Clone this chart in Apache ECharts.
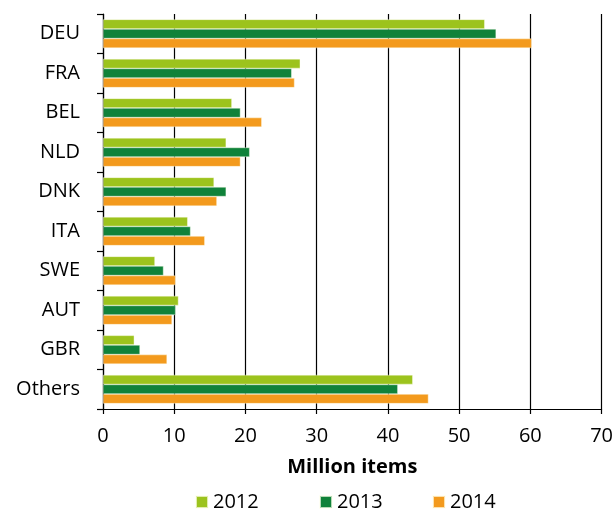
<!DOCTYPE html>
<html>
<head>
<meta charset="utf-8">
<script src="https://cdn.jsdelivr.net/npm/echarts@6/dist/echarts.min.js"></script>
<style>
  html, body { margin: 0; padding: 0; background: #fff; }
  #chart { width: 616px; height: 511px; }
</style>
</head>
<body>
<div id="chart"></div>
<script>
// Items by country, million items
const categories = ['DEU', 'FRA', 'BEL', 'NLD', 'DNK', 'ITA', 'SWE', 'AUT', 'GBR', 'Others'];
const years = ['2012', '2013', '2014'];
const values2012 = [53.6, 27.7, 18.1, 17.3, 15.6, 11.9, 7.3, 10.6, 4.4, 43.5];
const values2013 = [55.2, 26.5, 19.3, 20.6, 17.3, 12.3, 8.5, 10.2, 5.2, 41.4];
const values2014 = [60.2, 26.9, 22.3, 19.3, 16.0, 14.3, 10.2, 9.7, 9.0, 45.7];
const xTicks = { min: 0, max: 70, step: 10 };

const colors = ['#9cc31d', '#10823a', '#f39a1d'];
const seriesValues = [values2012, values2013, values2014];
const font = '"Open Sans", "Noto Sans", sans-serif';

const chart = echarts.init(document.getElementById('chart'), null, { renderer: 'canvas' });

const legendLeft = [195, 319, 432];

chart.setOption({
  animation: false,
  backgroundColor: '#fff',
  textStyle: { fontFamily: font },
  grid: { left: 103, right: 12, top: 14, bottom: 102, containLabel: false },
  legend: years.map((y, i) => ({
    data: [y],
    left: legendLeft[i],
    top: 492,
    itemWidth: 12,
    itemHeight: 12,
    itemGap: 5,
    icon: 'rect',
    textStyle: { fontSize: 20, color: '#000', fontFamily: font, padding: [0, 0, 0, 0] },
    padding: 0
  })),
  xAxis: {
    type: 'value',
    min: xTicks.min,
    max: xTicks.max,
    interval: xTicks.step,
    name: 'Million items',
    nameLocation: 'middle',
    nameGap: 48,
    nameTextStyle: { fontSize: 20, fontWeight: 'bold', color: '#000', fontFamily: font },
    axisLine: { show: true, lineStyle: { color: '#000', width: 1.2 } },
    axisTick: { show: true, length: 5, lineStyle: { color: '#000', width: 1.2 } },
    axisLabel: { fontSize: 20, color: '#000', margin: 17, fontFamily: font },
    splitLine: { show: true, lineStyle: { color: '#000', width: 1.2 } }
  },
  yAxis: {
    type: 'category',
    inverse: true,
    data: categories,
    axisLine: { show: true, lineStyle: { color: '#000', width: 1.2 } },
    axisTick: { show: true, length: 6, lineStyle: { color: '#000', width: 1.2 } },
    axisLabel: { fontSize: 20, color: '#000', margin: 23, fontFamily: font },
    splitLine: { show: false }
  },
  series: years.map((y, i) => ({
    name: y,
    type: 'bar',
    data: seriesValues[i],
    barGap: '0%',
    barCategoryGap: '27%',
    itemStyle: { color: colors[i], borderColor: 'rgba(255,255,240,0.7)', borderWidth: 0.6 }
  }))
});
</script>
</body>
</html>
